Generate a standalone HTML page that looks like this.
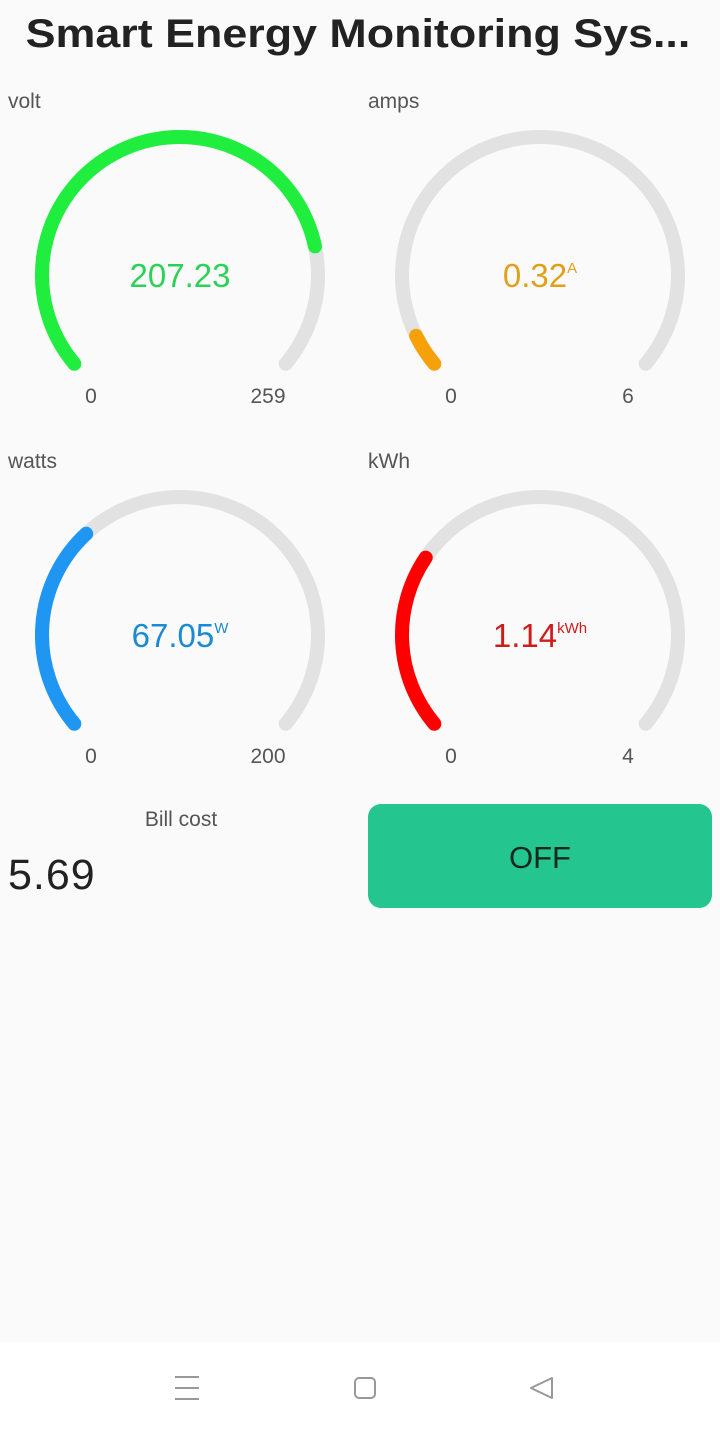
<!DOCTYPE html>
<html><head><meta charset="utf-8"><style>
html,body{margin:0;padding:0;width:720px;height:1431px;background:#fafafa;font-family:"Liberation Sans",sans-serif;overflow:hidden;position:relative}
.abs{position:absolute}
</style></head><body>
<div class="abs" style="left:0;width:716px;top:12px;text-align:center;font-size:40px;font-weight:bold;color:#222;transform:scaleX(1.12);transform-origin:358px 0">Smart Energy Monitoring Sys...</div>
<svg class="abs" style="left:0;top:0" width="720" height="800" id="g"></svg>
<div class="abs" style="left:80px;width:202px;top:808px;text-align:center;font-size:21px;color:#555">Bill cost</div>
<div class="abs" style="left:8px;top:851px;font-size:43px;color:#222;letter-spacing:1px">5.69</div>
<div class="abs" style="left:368px;top:804px;width:344px;height:104px;border-radius:13px;background:#24c58e;display:flex;align-items:center;justify-content:center;font-size:31px;color:#14281f;padding-top:4px;box-sizing:border-box">OFF</div>
<div class="abs" style="left:0;top:1342px;width:720px;height:89px;background:#fff"></div>
<svg class="abs" style="left:0;top:1342px" width="720" height="89">
<g stroke="#999" stroke-width="2"><line x1="175" y1="35" x2="199" y2="35"/><line x1="175" y1="46" x2="199" y2="46"/><line x1="175" y1="57" x2="199" y2="57"/></g>
<rect x="355" y="36" width="20" height="20" rx="4" fill="none" stroke="#999" stroke-width="2"/>
<path d="M552 36 L531 46 L552 56 Z" fill="none" stroke="#999" stroke-width="2" stroke-linejoin="round"/>
</svg>
<script>
const names=['volt','amps','watts','kWh'];
const values=[207.23,0.32,67.05,1.14];
const maxes=[259,6,200,4];
const valueLabels=['207.23','0.32','67.05','1.14'];
const units=['','A','W','kWh'];
const colors=['#1fee3f','#f7a10a','#1e96f2','#fe0000'];
const textColors=['#2bd257','#e0a01c','#1a8ad3','#d01b1b'];
const svg=document.getElementById('g');
const NS='http://www.w3.org/2000/svg';
const R=138,SW=14,A0=-130,SPAN=260;
function pt(cx,cy,a){const r=a*Math.PI/180;return [cx+R*Math.sin(r),cy-R*Math.cos(r)];}
function arc(cx,cy,a1,a2){const p1=pt(cx,cy,a1),p2=pt(cx,cy,a2);const large=(a2-a1)>180?1:0;return `M${p1[0]} ${p1[1]} A${R} ${R} 0 ${large} 1 ${p2[0]} ${p2[1]}`;}
function mk(tag,attrs,name){const e=document.createElementNS(NS,tag);for(const k in attrs)e.setAttribute(k,attrs[k]);svg.appendChild(e);return e;}
names.forEach((n,i)=>{
 const cx=180+(i%2)*360, cy=275+Math.floor(i/2)*360;
 const lx=8+(i%2)*360, ly=108+Math.floor(i/2)*360;
 let t=mk('text',{x:lx,y:ly,'font-size':21,fill:'#555'},n+'-label');t.textContent=n;
 mk('path',{d:arc(cx,cy,A0,A0+SPAN),stroke:'#e2e2e2','stroke-width':SW,fill:'none','stroke-linecap':'round'},n+'-track');
 const f=Math.max(0,Math.min(1,values[i]/maxes[i]));
 mk('path',{d:arc(cx,cy,A0,A0+SPAN*f),stroke:colors[i],'stroke-width':SW,fill:'none','stroke-linecap':'round'},n+'-value-arc');
 t=mk('text',{x:cx,y:cy+12,'font-size':33,fill:textColors[i],'text-anchor':'middle'},n+'-value');
 t.textContent=valueLabels[i];
 if(units[i]){const s=document.createElementNS(NS,'tspan');s.setAttribute('font-size',15);s.setAttribute('dy',-14);s.textContent=units[i];t.appendChild(s);}
 t=mk('text',{x:cx-89,y:cy+128,'font-size':21,fill:'#555','text-anchor':'middle'},n+'-min');t.textContent='0';
 t=mk('text',{x:cx+88,y:cy+128,'font-size':21,fill:'#555','text-anchor':'middle'},n+'-max');t.textContent=String(maxes[i]);
});
</script>
</body></html>
